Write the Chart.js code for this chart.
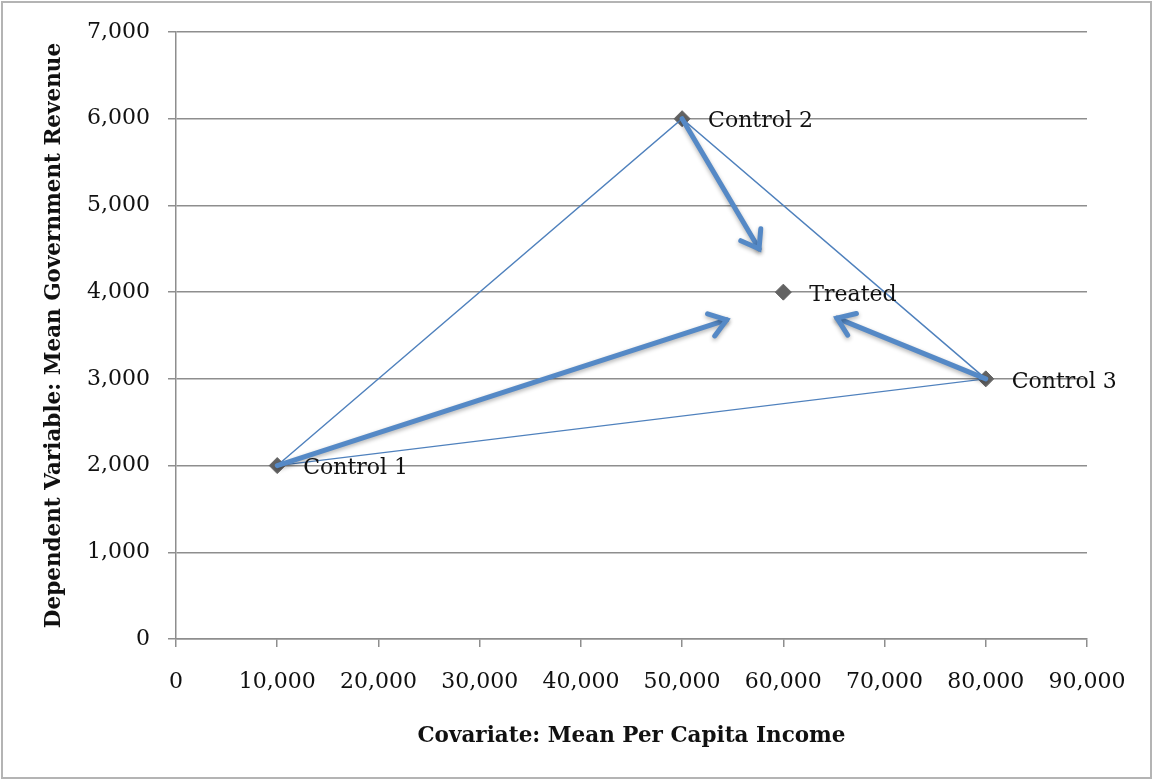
<!DOCTYPE html>
<html lang="en">
<head>
    <meta charset="UTF-8">
    <title>Synthetic Control Illustration</title>
    <style>
        * { margin: 0; padding: 0; box-sizing: border-box; }
        body { background: #fff; width: 1153px; height: 780px; overflow: hidden; }
        canvas { display: block; }
    </style>
</head>
<body>
    <canvas id="scChart" width="1153" height="780"></canvas>

    <script src="https://cdn.jsdelivr.net/npm/chart.js"></script>
    <script>
    // data
    const unitNames = ['Control 1', 'Control 2', 'Control 3', 'Treated'];
    const income = [10000, 50000, 80000, 60000];
    const revenue = [2000, 6000, 3000, 4000];

    // triangle joining the three controls (indexes into the arrays above)
    const hullOrder = [0, 1, 2, 0];

    // arrows start at each control and stop short of the treated unit
    const arrowFrom = [0, 1, 2];
    const arrowEndX = [54400, 57600, 65300];
    const arrowEndY = [3680, 4500, 3700];

    const xTicks = [0, 10000, 20000, 30000, 40000, 50000, 60000, 70000, 80000, 90000];
    const yTicks = [0, 1000, 2000, 3000, 4000, 5000, 6000, 7000];

    const blue = '#4f81bd';
    const arrowBlue = '#5589c6';
    const gridGray = '#8e8e8e';
    const serif = "'DejaVu Serif', 'Liberation Serif', serif";

    const points = income.map((x, i) => ({ x: x, y: revenue[i] }));
    const hull = hullOrder.map(i => points[i]);
    const arrowSets = arrowFrom.map((i, k) => ({
        label: 'arrow ' + (k + 1),
        data: [points[i], { x: arrowEndX[k], y: arrowEndY[k] }],
        showLine: true,
        borderColor: arrowBlue,
        borderWidth: 5,
        pointRadius: 0,
        borderCapStyle: 'round',
        order: 1,
        isArrow: true
    }));

    // outer frame round the whole picture
    const framePlugin = {
        id: 'frame',
        beforeDraw(chart) {
            const ctx = chart.ctx;
            ctx.save();
            ctx.fillStyle = '#fff';
            ctx.fillRect(0, 0, chart.width, chart.height);
            ctx.strokeStyle = '#b4b4b4';
            ctx.lineWidth = 2;
            ctx.strokeRect(2, 2, chart.width - 4, chart.height - 4);
            ctx.restore();
        }
    };

    // soft shadow under the thick arrows, like the original
    const shadowPlugin = {
        id: 'arrowShadow',
        beforeDatasetDraw(chart, args) {
            if (!chart.data.datasets[args.index].isArrow) return;
            const ctx = chart.ctx;
            ctx.save();
            ctx.shadowColor = 'rgba(0,0,0,0.3)';
            ctx.shadowBlur = 4;
            ctx.shadowOffsetY = 2;
        },
        afterDatasetDraw(chart, args) {
            if (!chart.data.datasets[args.index].isArrow) return;
            chart.ctx.restore();
        }
    };

    // open chevron heads at the end of each arrow
    const headPlugin = {
        id: 'arrowHeads',
        afterDatasetsDraw(chart) {
            const ctx = chart.ctx;
            const xs = chart.scales.x, ys = chart.scales.y;
            ctx.save();
            ctx.strokeStyle = arrowBlue;
            ctx.lineWidth = 5;
            ctx.lineCap = 'round';
            ctx.lineJoin = 'miter';
            ctx.shadowColor = 'rgba(0,0,0,0.3)';
            ctx.shadowBlur = 4;
            ctx.shadowOffsetY = 2;
            arrowFrom.forEach((i, k) => {
                const x0 = xs.getPixelForValue(income[i]);
                const y0 = ys.getPixelForValue(revenue[i]);
                const x1 = xs.getPixelForValue(arrowEndX[k]);
                const y1 = ys.getPixelForValue(arrowEndY[k]);
                const a = Math.atan2(y1 - y0, x1 - x0);
                const len = 20, spread = 0.62;
                ctx.beginPath();
                ctx.moveTo(x1 - len * Math.cos(a - spread), y1 - len * Math.sin(a - spread));
                ctx.lineTo(x1, y1);
                ctx.lineTo(x1 - len * Math.cos(a + spread), y1 - len * Math.sin(a + spread));
                ctx.stroke();
            });
            ctx.restore();
        }
    };

    // unit names to the right of the markers
    const namePlugin = {
        id: 'unitNames',
        afterDatasetsDraw(chart) {
            const ctx = chart.ctx;
            const xs = chart.scales.x, ys = chart.scales.y;
            ctx.save();
            ctx.font = '22px ' + serif;
            ctx.fillStyle = '#111';
            ctx.textAlign = 'left';
            ctx.textBaseline = 'middle';
            unitNames.forEach((name, i) => {
                ctx.fillText(name, xs.getPixelForValue(income[i]) + 26, ys.getPixelForValue(revenue[i]) + 3);
            });
            ctx.restore();
        }
    };

    const fmt = v => v.toLocaleString('en-US');

    const ctx = document.getElementById('scChart').getContext('2d');
    const scChart = new Chart(ctx, {
        type: 'scatter',
        data: {
            datasets: [
                {
                    label: 'Units',
                    data: points,
                    pointStyle: 'rectRot',
                    pointRadius: 8,
                    pointHoverRadius: 8,
                    backgroundColor: '#636363',
                    borderColor: '#636363',
                    borderWidth: 1,
                    order: 3
                },
                {
                    label: 'Controls',
                    data: hull,
                    showLine: true,
                    borderColor: blue,
                    borderWidth: 1.4,
                    pointRadius: 0,
                    order: 2
                },
                ...arrowSets
            ]
        },
        options: {
            responsive: false,
            animation: false,
            devicePixelRatio: 1,
            layout: { padding: { left: 0, right: 66, top: 32, bottom: 0 } },
            plugins: {
                legend: { display: false },
                tooltip: { enabled: false }
            },
            scales: {
                x: {
                    type: 'linear',
                    min: 0,
                    max: 90000,
                    afterFit(scale) { scale.height = 141; },
                    afterBuildTicks(scale) { scale.ticks = xTicks.map(v => ({ value: v })); },
                    ticks: {
                        padding: 22,
                        color: '#111',
                        font: { family: serif, size: 22 },
                        callback: v => fmt(v),
                        maxRotation: 0
                    },
                    grid: {
                        drawOnChartArea: false,
                        drawTicks: true,
                        tickLength: 8,
                        color: gridGray,
                        lineWidth: 1.5
                    },
                    border: { color: gridGray, width: 1.5 },
                    title: {
                        display: true,
                        text: 'Covariate: Mean Per Capita Income',
                        color: '#111',
                        font: { family: serif, size: 21.5, weight: 'bold' },
                        padding: { top: 0, bottom: 31 }
                    }
                },
                y: {
                    type: 'linear',
                    min: 0,
                    max: 7000,
                    afterFit(scale) { scale.width = 176; },
                    afterBuildTicks(scale) { scale.ticks = yTicks.map(v => ({ value: v })); },
                    ticks: {
                        padding: 18,
                        color: '#111',
                        font: { family: serif, size: 22 },
                        callback: v => fmt(v)
                    },
                    grid: {
                        drawTicks: true,
                        tickLength: 8,
                        color: gridGray,
                        lineWidth: 1.5
                    },
                    border: { color: gridGray, width: 1.5 },
                    title: {
                        display: true,
                        text: 'Dependent Variable: Mean Government Revenue',
                        color: '#111',
                        font: { family: serif, size: 21.5, weight: 'bold' },
                        padding: { top: 42, bottom: 0 }
                    }
                }
            }
        },
        plugins: [framePlugin, shadowPlugin, headPlugin, namePlugin]
    });
    </script>
</body>
</html>
